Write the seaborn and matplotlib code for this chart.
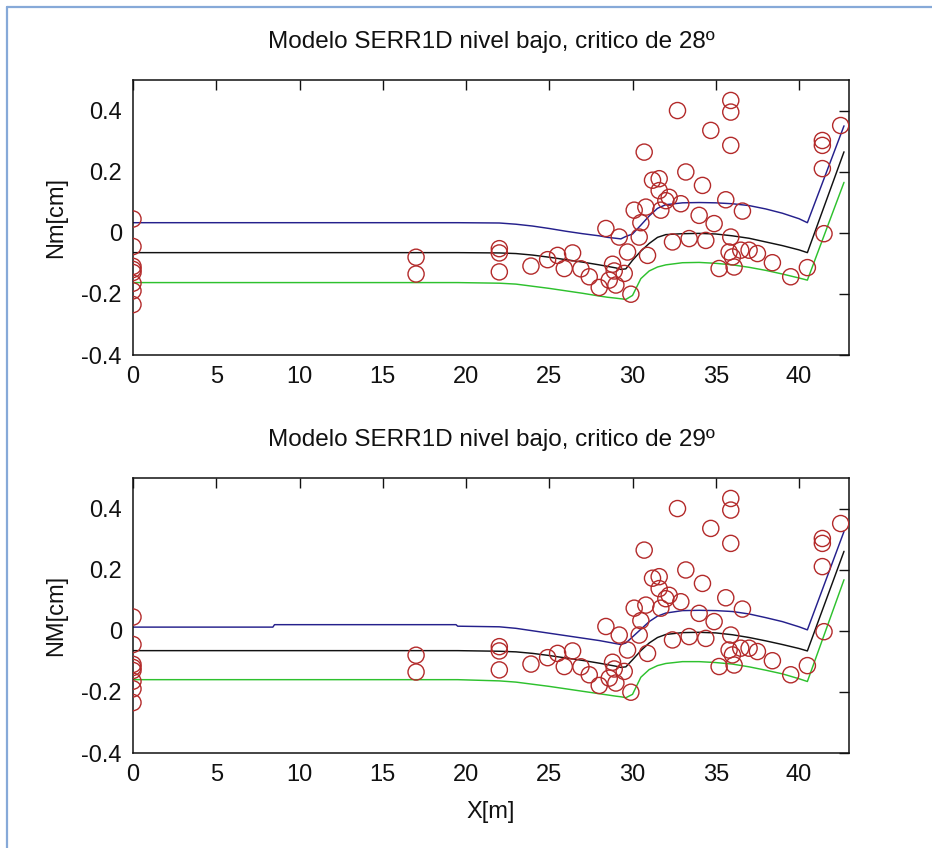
import matplotlib
matplotlib.use("Agg")
import matplotlib.pyplot as plt
from matplotlib.lines import Line2D
import pandas as pd
import seaborn as sns

# ---- text -------------------------------------------------------------
titles = ["Modelo SERR1D nivel bajo, critico de 28º",
          "Modelo SERR1D nivel bajo, critico de 29º"]
ylabels = ["Nm[cm]", "NM[cm]"]
xlabel = "X[m]"
x_ticks = [0, 5, 10, 15, 20, 25, 30, 35, 40]
y_ticks = [-0.4, -0.2, 0.0, 0.2, 0.4]
y_tick_labels = ["-0.4", "-0.2", "0", "0.2", "0.4"]

# ---- measured points (same survey in both panels) ---------------------
x_obs = [0, 0, 0, 0, 0, 0, 0, 0,
         17, 17,
         22, 22, 22,
         23.9, 24.9, 25.5, 25.9, 26.4, 26.9, 27.4, 28.0, 28.4, 28.6,
         28.8, 28.9, 29.0, 29.2, 29.5, 29.7, 29.9, 30.1, 30.4, 30.5,
         30.8, 30.7, 30.9, 31.2, 31.6, 31.6, 31.7, 32.0, 32.2, 32.4,
         32.7, 32.9, 33.2, 33.4, 34.0, 34.2, 34.4, 34.7, 34.9, 35.2,
         35.6, 35.9, 35.9, 35.9, 35.9, 35.8, 36.0, 36.1, 36.6, 36.5,
         37.0, 37.5, 38.4, 39.5, 40.5, 41.4, 41.4, 41.4, 41.5, 42.5]
y_obs = [0.045, -0.045, -0.11, -0.12, -0.13, -0.165, -0.19, -0.235,
         -0.08, -0.135,
         -0.052, -0.066, -0.128,
         -0.109, -0.088, -0.074, -0.117, -0.066, -0.118, -0.144, -0.179, 0.014, -0.155,
         -0.103, -0.125, -0.171, -0.014, -0.133, -0.063, -0.201, 0.074, -0.014, 0.033,
         0.084, 0.264, -0.074, 0.172, 0.177, 0.138, 0.074, 0.105, 0.116, -0.030,
         0.400, 0.095, 0.199, -0.019, 0.057, 0.155, -0.025, 0.335, 0.030, -0.117,
         0.108, 0.433, 0.395, 0.286, -0.014, -0.063, -0.079, -0.112, 0.071, -0.057,
         -0.057, -0.068, -0.098, -0.144, -0.114, 0.302, 0.286, 0.210, -0.003, 0.351]

# ---- model profiles ---------------------------------------------------
x_model = [0, 8.4, 8.5, 19.4, 19.5, 22, 23, 24, 25, 26, 27, 28, 28.5, 29, 29.3,
           29.6, 30, 30.5, 31, 31.5, 32, 33, 34, 35, 36, 37, 38, 39, 40, 40.5, 42.7]

upper_28 = [0.033, 0.033, 0.033, 0.033, 0.033, 0.032, 0.028, 0.022, 0.014, 0.005,
            -0.003, -0.010, -0.015, -0.018, -0.020, -0.012, -0.004, 0.025, 0.055,
            0.080, 0.092, 0.098, 0.099, 0.098, 0.095, 0.089, 0.078, 0.064, 0.046,
            0.033, 0.350]
mid_28 = [-0.065, -0.065, -0.065, -0.065, -0.065, -0.066, -0.068, -0.073, -0.080,
          -0.088, -0.096, -0.105, -0.110, -0.115, -0.120, -0.118, -0.090, -0.060,
          -0.035, -0.015, -0.006, -0.003, -0.002, -0.004, -0.010, -0.018, -0.030,
          -0.042, -0.056, -0.065, 0.265]
lower_28 = [-0.163, -0.163, -0.163, -0.163, -0.163, -0.165, -0.168, -0.175, -0.182,
            -0.190, -0.198, -0.207, -0.211, -0.214, -0.216, -0.218, -0.205, -0.150,
            -0.125, -0.112, -0.105, -0.098, -0.097, -0.100, -0.105, -0.113, -0.123,
            -0.135, -0.148, -0.155, 0.165]

upper_29 = [0.012, 0.012, 0.020, 0.020, 0.015, 0.013, 0.008, 0.000, -0.008, -0.016,
            -0.024, -0.032, -0.037, -0.042, -0.045, -0.040, -0.020, 0.005, 0.030,
            0.048, 0.058, 0.066, 0.067, 0.066, 0.063, 0.055, 0.043, 0.030, 0.013,
            0.003, 0.325]
mid_29 = [-0.065, -0.065, -0.065, -0.065, -0.065, -0.067, -0.069, -0.074, -0.081,
          -0.089, -0.097, -0.106, -0.111, -0.116, -0.120, -0.118, -0.095, -0.065,
          -0.040, -0.022, -0.012, -0.006, -0.005, -0.007, -0.013, -0.022, -0.033,
          -0.045, -0.058, -0.066, 0.260]
lower_29 = [-0.160, -0.160, -0.160, -0.160, -0.160, -0.164, -0.168, -0.175, -0.182,
            -0.190, -0.198, -0.206, -0.210, -0.214, -0.216, -0.219, -0.208, -0.152,
            -0.127, -0.114, -0.107, -0.101, -0.101, -0.104, -0.109, -0.118, -0.129,
            -0.141, -0.157, -0.166, 0.167]

# ---- style ------------------------------------------------------------
sns.set_theme(style="white")
plt.rcParams["font.family"] = ["Liberation Sans", "DejaVu Sans"]

C_UPPER = "#25208c"
C_MID = "#111111"
C_LOWER = "#2ec12e"
C_OBS = "#b32a2a"
C_FRAME = "#86a9d8"
C_TEXT = "#111111"

W, H = 932, 848
fig = plt.figure(figsize=(W / 100, H / 100), dpi=100)
fig.patch.set_facecolor("white")

ax_left, ax_w, ax_h = 133 / W, 716 / W, 275 / H
positions = [[ax_left, 1 - 355 / H, ax_w, ax_h],
             [ax_left, 1 - 753 / H, ax_w, ax_h]]

obs = pd.DataFrame({"x": x_obs, "y": y_obs})
panels = [(upper_28, mid_28, lower_28), (upper_29, mid_29, lower_29)]

for i, (pos, (up, mid, lo)) in enumerate(zip(positions, panels)):
    ax = fig.add_axes(pos)
    model = pd.DataFrame({"x": x_model, "upper": up, "mid": mid, "lower": lo})
    for col, colr in (("upper", C_UPPER), ("mid", C_MID), ("lower", C_LOWER)):
        sns.lineplot(data=model, x="x", y=col, ax=ax, color=colr, lw=1.05,
                     sort=False, estimator=None)
    sns.scatterplot(data=obs, x="x", y="y", ax=ax, marker="o", s=135,
                    facecolor="none", edgecolor=C_OBS, linewidth=1.0, zorder=3)

    ax.set_xlim(0, 43)
    ax.set_ylim(-0.4, 0.5)
    ax.set_xticks(x_ticks)
    ax.set_xticklabels([str(t) for t in x_ticks], fontsize=17)
    ax.set_yticks(y_ticks)
    ax.set_yticklabels(y_tick_labels, fontsize=17)
    ax.tick_params(direction="in", length=7, width=1, top=True, right=True,
                   colors=C_TEXT, pad=8)
    for sp in ax.spines.values():
        sp.set_visible(True)
        sp.set_color(C_TEXT)
        sp.set_linewidth(1.1)

    ax.set_title(titles[i], fontsize=17.5, color=C_TEXT, y=1.109, va="center")
    ax.set_ylabel(ylabels[i], fontsize=17, color=C_TEXT)
    ax.yaxis.set_label_coords(-0.092, 0.5)
    if i == 1:
        ax.set_xlabel(xlabel, fontsize=17, color=C_TEXT, va="center")
        ax.xaxis.set_label_coords(0.5, -59 / 275)
    else:
        ax.set_xlabel("")

# thin frame around the figure
fig.add_artist(Line2D([7 / W, 7 / W], [0, 1 - 7 / H], transform=fig.transFigure,
                      color=C_FRAME, lw=1.6))
fig.add_artist(Line2D([7 / W, 1], [1 - 7 / H, 1 - 7 / H], transform=fig.transFigure,
                      color=C_FRAME, lw=1.6))

fig.savefig("out.png", dpi=100, facecolor="white")
